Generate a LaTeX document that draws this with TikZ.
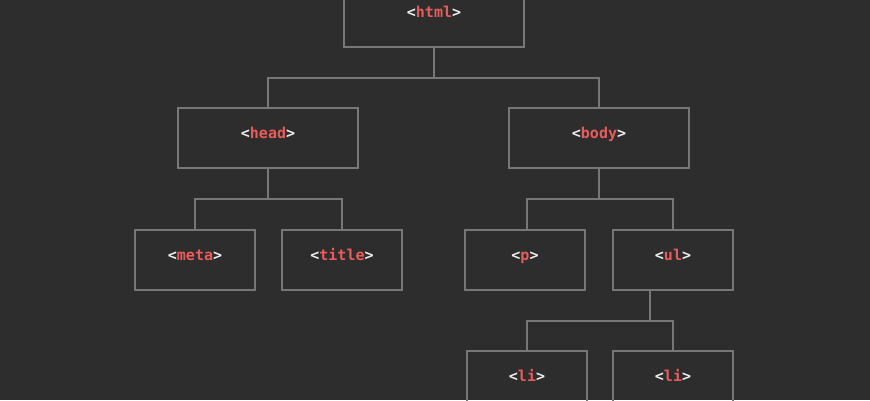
\documentclass[tikz,border=0pt]{standalone}
\usepackage{fontspec}
\setmonofont{DejaVu Sans Mono}
\begin{document}
\begin{tikzpicture}[x=1pt,y=-1pt,
  box/.style={draw=lc,line width=2pt,minimum height=60pt,inner sep=0pt,text height=6pt,text depth=5pt,font=\ttfamily\bfseries\fontsize{15}{17}\selectfont},
  wide/.style={box,minimum width=180pt},
  narrow/.style={box,minimum width=120pt},
  ln/.style={draw=lc,line width=2pt}]
\definecolor{bg}{HTML}{2D2D2D}\definecolor{lc}{HTML}{777777}
\definecolor{tr}{HTML}{E85C5C}\definecolor{tw}{HTML}{EEEEEE}
\newcommand{\tg}[1]{\textcolor{tw}{<}\textcolor{tr}{#1}\textcolor{tw}{>}}
\fill[bg] (0,0) rectangle (870,400);
\useasboundingbox (0,0) rectangle (870,400);
\node[wide] (html) at (434,17) {\tg{html}};
\node[wide] (head) at (268,138) {\tg{head}};
\node[wide] (body) at (599,138) {\tg{body}};
\node[narrow] (meta) at (195,260) {\tg{meta}};
\node[narrow] (title) at (342,260) {\tg{title}};
\node[narrow] (p) at (525,260) {\tg{p}};
\node[narrow] (ul) at (673,260) {\tg{ul}};
\node[narrow] (li1) at (527,381) {\tg{li}};
\node[narrow] (li2) at (673,381) {\tg{li}};
\coordinate (j1) at (434,78); \coordinate (j2) at (268,199);
\coordinate (j3) at (599,199); \coordinate (j4) at (650,321);
\draw[ln] (html.south) -- (j1);
\draw[ln] (head.north) -- (head.north |- j1) -- (body.north |- j1) -- (body.north);
\draw[ln] (head.south) -- (j2);
\draw[ln] (meta.north) -- (meta.north |- j2) -- (title.north |- j2) -- (title.north);
\draw[ln] (body.south) -- (j3);
\draw[ln] ([xshift=2pt]p.north) -- ([xshift=2pt]p.north |- j3) -- (ul.north |- j3) -- (ul.north);
\draw[ln] (ul.south -| j4) -- (j4);
\draw[ln] (li1.north) -- (li1.north |- j4) -- (li2.north |- j4) -- (li2.north);
\end{tikzpicture}
\end{document}
